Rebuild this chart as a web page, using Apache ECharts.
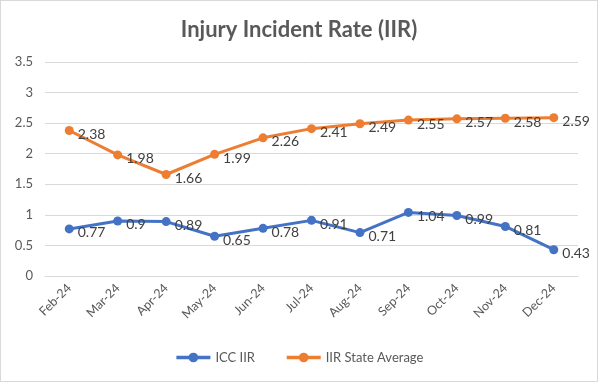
<!DOCTYPE html>
<html><head><meta charset="utf-8">
<script src="https://cdn.jsdelivr.net/npm/echarts@6/dist/echarts.min.js"></script>
<style>html,body{margin:0;padding:0;background:#fff}#c{width:596px;height:380px;border:1px solid #d9d9d9}</style>
</head><body><div id="c"></div>
<script>
const categories = ['Feb-24','Mar-24','Apr-24','May-24','Jun-24','Jul-24','Aug-24','Sep-24','Oct-24','Nov-24','Dec-24'];
const iccIIR = [0.77,0.9,0.89,0.65,0.78,0.91,0.71,1.04,0.99,0.81,0.43];
const stateAvg = [2.38,1.98,1.66,1.99,2.26,2.41,2.49,2.55,2.57,2.58,2.59];
const yTicks = {min:0,max:3.5,interval:0.5};
const font = 'Lato, "Noto Sans", sans-serif';
const chart = echarts.init(document.getElementById('c'));
function s(name, data, color){
  return {name, type:'line', data, color, symbol:'circle', symbolSize:9,
    lineStyle:{width:3,color}, itemStyle:{color},
    label:{show:true,position:'right',distance:4,color:'#404040',fontSize:14,fontFamily:font,offset:[0,4]}};
}
chart.setOption({
  animation:false,
  title:{text:'Injury Incident Rate (IIR)',left:'center',top:13,textStyle:{fontSize:22,fontWeight:'bold',color:'#595959',fontFamily:font}},
  legend:{bottom:12,left:'center',itemWidth:34,itemHeight:12,itemGap:30,textStyle:{color:'#595959',fontSize:13,fontFamily:font},
    lineStyle:{width:3.5},
    data:['ICC IIR','IIR State Average']},
  grid:{left:44,right:19,top:61,bottom:105},
  xAxis:{type:'category',data:categories,boundaryGap:true,
    axisLine:{show:true,lineStyle:{color:'#d9d9d9'}},axisTick:{show:false},
    axisLabel:{rotate:45,color:'#595959',fontSize:12.5,fontFamily:font,margin:10}},
  yAxis:{type:'value',min:yTicks.min,max:yTicks.max,interval:yTicks.interval,
    axisLine:{show:false},axisTick:{show:false},
    splitLine:{lineStyle:{color:'#d9d9d9'}},
    axisLabel:{color:'#595959',fontSize:13,fontFamily:font,margin:12}},
  series:[s('ICC IIR',iccIIR,'#4472C4'),s('IIR State Average',stateAvg,'#ED7D31')]
});
</script></body></html>
